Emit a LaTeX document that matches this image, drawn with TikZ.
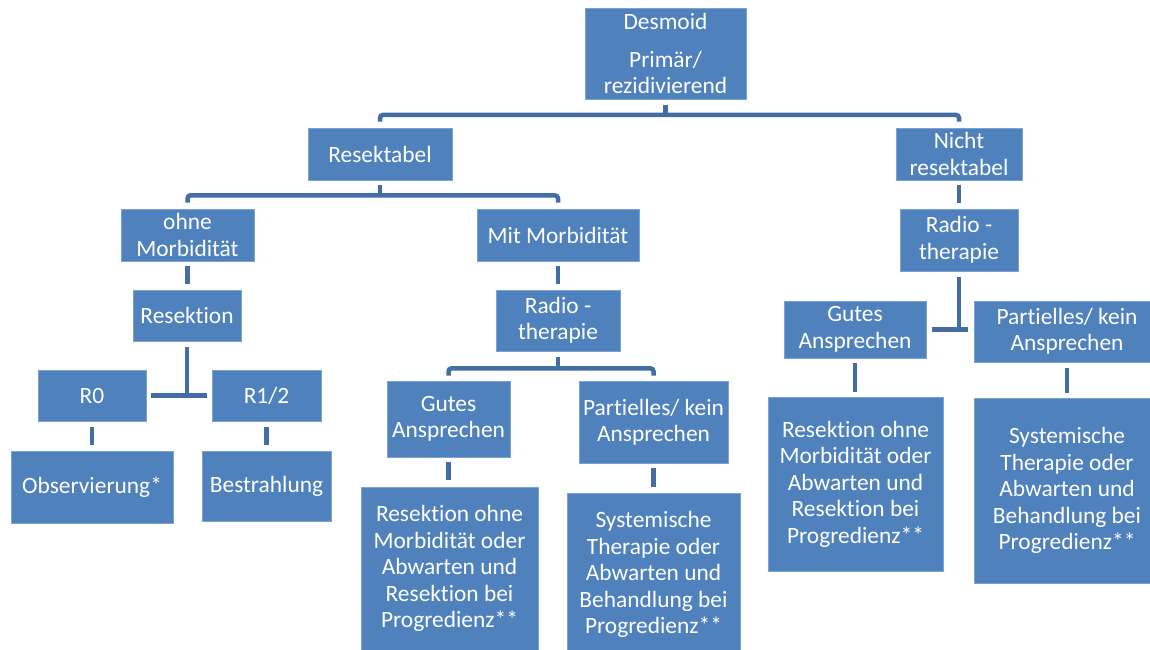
\documentclass[tikz,border=0pt]{standalone}
\usepackage{fontspec}
\setmainfont{Carlito}[Ligatures=NoCommon]
\usepackage{tikz}
\usetikzlibrary{positioning}
\definecolor{boxblue}{RGB}{79,129,189}
\definecolor{edgeblue}{RGB}{125,163,210}
\definecolor{connblue}{RGB}{66,110,165}

\begin{document}
\begin{tikzpicture}[x=1pt, y=-1pt,
    tbox/.style={draw=edgeblue, line width=0.8pt, fill=boxblue, text=white,
      align=center, inner sep=0pt,
      font=\fontsize{23.4pt}{26.5pt}\selectfont},
    conn/.style={draw=connblue, line width=4.5pt}]
  \useasboundingbox (0,0) rectangle (1150,649);

  % top level
  \node[tbox, minimum width=161pt, minimum height=91pt] (desmoid) at (665.5,53.5)
    {Desmoid\\[11.5pt]Primär/\\rezidivierend};
  \node[tbox, minimum width=144pt, minimum height=52pt] (resektabel) at (380,154) {Resektabel};
  \node[tbox, minimum width=126pt, minimum height=52pt] (nicht) at (959,154) {Nicht\\resektabel};

  % resektabel branch
  \node[tbox, minimum width=133pt, minimum height=52pt] (ohne) at (187.5,235) {ohne\\Morbidität};
  \node[tbox, minimum width=162pt, minimum height=52pt] (mit) at (558,235) {Mit Morbidität};
  \node[tbox, minimum width=108pt, minimum height=51pt] (resektion) at (187,315.5) {Resektion};
  \node[tbox, minimum width=108pt, minimum height=51pt] (r0) at (92,395.5) {R0};
  \node[tbox, minimum width=109pt, minimum height=51pt] (r1) at (266.5,395.5) {R1/2};
  \node[tbox, minimum width=162pt, minimum height=72pt] (obs) at (92,487) {Observierung*};
  \node[tbox, minimum width=129pt, minimum height=70pt] (bestr) at (266.5,486) {Bestrahlung};
  \node[tbox, minimum width=124pt, minimum height=61pt] (radioM) at (558,320.5) {Radio -\\therapie};
  \node[tbox, minimum width=123pt, minimum height=76pt] (gutesM) at (448.5,419) {Gutes\\Ansprechen};
  \node[tbox, minimum width=149pt, minimum height=82pt] (partM) at (653.5,422) {Partielles/ kein\\Ansprechen};
  \node[tbox, minimum width=177pt, minimum height=163pt] (resoM) at (449.5,568.5)
    {Resektion ohne\\Morbidität oder\\Abwarten und\\Resektion bei\\Progredienz**};
  \node[tbox, minimum width=173pt, minimum height=163pt] (sysM) at (653.5,574.5)
    {Systemische\\Therapie oder\\Abwarten und\\Behandlung bei\\Progredienz**};

  % nicht resektabel branch
  \node[tbox, minimum width=118pt, minimum height=62pt] (radioR) at (959,240) {Radio -\\therapie};
  \node[tbox, minimum width=142pt, minimum height=57pt] (gutesR) at (855,329.5) {Gutes\\Ansprechen};
  \node[tbox, minimum width=186pt, minimum height=61pt] (partR) at (1067,331.5) {Partielles/ kein\\Ansprechen};
  \node[tbox, minimum width=175pt, minimum height=174pt] (resoR) at (855.5,484)
    {Resektion ohne\\Morbidität oder\\Abwarten und\\Resektion bei\\Progredienz**};
  \node[tbox, minimum width=186pt, minimum height=185pt] (sysR) at (1067,490.5)
    {Systemische\\Therapie oder\\Abwarten und\\Behandlung bei\\Progredienz**};

  % connectors
  \draw[conn] ([yshift=-6pt]desmoid.south) -- ++(0,-10pt);
  \draw[conn, rounded corners=3pt] ([yshift=6pt]resektabel.north) |- ([yshift=-15.5pt]desmoid.south)
    -| ([yshift=6pt]nicht.north);
  \draw[conn] ([yshift=-5pt]resektabel.south) -- ++(0,-10pt);
  \draw[conn, rounded corners=3pt] ([yshift=6pt]ohne.north) |- ([yshift=-15pt]resektabel.south)
    -| ([yshift=6pt]mit.north);
  \draw[conn] ([yshift=-5pt]ohne.south) -- ([yshift=6pt]ohne.south |- resektion.north);
  \draw[conn] ([yshift=-6pt]resektion.south) -- (resektion.south |- r0.east);
  \draw[conn] ([xshift=5pt]r0.east) -- ([xshift=-5pt]r1.west);
  \draw[conn] ([yshift=-6pt]r0.south) -- ([yshift=6pt]obs.north);
  \draw[conn] ([yshift=-6pt]r1.south) -- ([yshift=6pt]bestr.north);
  \draw[conn] ([yshift=-5pt]mit.south) -- ([yshift=6pt]radioM.north);
  \draw[conn] ([yshift=-6pt]radioM.south) -- ++(0,-11pt);
  \draw[conn, rounded corners=3pt] ([yshift=5pt]gutesM.north) |- ([yshift=-17pt]radioM.south)
    -| ([yshift=5pt]partM.north);
  \draw[conn] ([yshift=-5pt]gutesM.south) -- ([yshift=7pt]gutesM.south |- resoM.north);
  \draw[conn] ([yshift=-5pt]partM.south) -- ([yshift=6pt]sysM.north);
  \draw[conn] ([yshift=-5pt]nicht.south) -- ([yshift=6pt]radioR.north);
  \draw[conn] ([yshift=-6pt]radioR.south) -- (radioR.south |- gutesR.east);
  \draw[conn] ([xshift=6pt]gutesR.east) -- ([xshift=-6pt]partR.west |- gutesR.east);
  \draw[conn] ([yshift=-5pt]gutesR.south) -- ([yshift=5pt]gutesR.south |- resoR.north);
  \draw[conn] ([yshift=-6pt]partR.south) -- ([yshift=5pt]sysR.north);
\end{tikzpicture}
\end{document}
